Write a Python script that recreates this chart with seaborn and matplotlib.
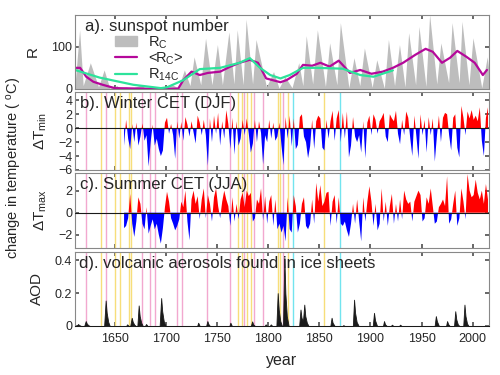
import numpy as np
import pandas as pd
import seaborn as sns
import matplotlib.pyplot as plt
from matplotlib.patches import Patch
from matplotlib.lines import Line2D

# ---- a) sunspot number: cycle minima / maxima
rc_year = [1611, 1615.5, 1619, 1626, 1634, 1639.5, 1645, 1652, 1655, 1661, 1666, 1676, 1680,
           1684, 1689, 1698, 1705, 1712, 1718, 1723.5, 1727.5, 1734, 1738.7, 1745, 1750.3,
           1755.2, 1761.5, 1766.5, 1769.7, 1775.5, 1778.4, 1784.7, 1788.1, 1798.3, 1805.2,
           1810.6, 1816.4, 1823.3, 1829.9, 1833.9, 1837.2, 1843.5, 1848.1, 1856, 1860.1,
           1867.2, 1870.6, 1878.9, 1883.9, 1889.6, 1894.1, 1901.7, 1906.2, 1913.6, 1917.6,
           1923.6, 1928.4, 1933.8, 1937.4, 1944.2, 1947.5, 1954.3, 1957.9, 1964.9, 1968.9,
           1976.5, 1979.9, 1986.8, 1989.6, 1996.4, 2000.3, 2008.9, 2014.3, 2016]
rc_val = [10, 140, 8, 62, 5, 45, 2, 8, 1, 5, 1, 10, 1,
          5, 0, 0, 12, 2, 45, 8, 76, 10, 120, 10, 105,
          10, 135, 12, 140, 10, 165, 12, 117, 5, 41,
          2, 29, 3, 62, 8, 126, 12, 140, 6, 109,
          10, 157, 3, 74, 8, 97, 4, 69, 2, 117,
          8, 105, 5, 133, 10, 148, 6, 176, 12, 109,
          15, 157, 15, 160, 10, 121, 3, 76, 40]

# <R_C> running mean
rcm_year = [1611, 1616, 1622, 1629, 1638, 1650, 1700, 1712, 1717, 1725, 1733, 1741, 1753,
            1763, 1772, 1782, 1790, 1798, 1812, 1818, 1828, 1834, 1843, 1851, 1860, 1869,
            1880, 1890, 1901, 1912, 1922, 1932, 1944, 1954, 1961, 1970, 1978, 1985, 1994,
            2002, 2010, 2014]
rcm_val = [50, 50, 29, 17, 10, 2, 0, 1, 21, 41, 33, 38, 41,
           53, 62, 69, 62, 25, 16, 21, 36, 57, 55, 62, 53, 67,
           38, 45, 36, 41, 50, 62, 81, 95, 88, 62, 74, 90, 76,
           62, 33, 45]

# R_14C from cosmogenic isotopes
r14_year = [1611, 1635, 1668, 1695, 1701, 1717, 1733, 1753, 1772, 1782, 1792, 1802, 1812,
            1821, 1834, 1848, 1873, 1890, 1903, 1922]
r14_val = [45, 27, 10, 2, 4, 21, 47, 50, 62, 73, 50, 33, 25,
           33, 50, 50, 48, 33, 29, 44]

# ---- b) winter CET (DJF) and c) summer CET (JJA) anomalies, every 2nd year
cet_year = list(range(1659, 2016, 2))
djf = [-2.5, 1.2, -1.5, -3.0, 0.6, -2.0, 0.8, -2.5, -1.2, 0.7,
       -1.8, -1.0, -5.5, -2.0, 0.5, -2.5, -1.5, -3.0, -4.0, -3.2,
       0.8, 1.5, -0.8, 0.6, -1.0, -4.4, 1.0, -1.5, 0.9, -1.8,
       1.6, 0.5, -1.2, 1.0, -0.6, -2.2, 1.8, 0.8, -1.0, 1.2,
       -1.0, -5.4, 1.4, -2.0, 1.8, -0.8, 2.2, -2.5, 1.0, -1.5,
       2.6, 0.6, -3.0, 1.5, -3.8, 1.0, -2.5, -1.5, 1.2, -1.0,
       1.4, -0.8, -3.5, -2.2, 1.2, -2.0, 1.0, -0.7, -5.2, -1.0,
       -2.0, 1.2, -1.5, 0.8, -1.8, -1.2, 0.8, -2.5, -5.3, 1.6,
       -1.5, 1.8, -2.6, 1.4, -3.0, -2.4, 1.6, 2.0, -1.2, -2.0,
       -4.3, -2.6, 1.2, -3.0, 1.0, 1.8, 1.4, -2.8, -3.2, 1.2,
       -1.5, 1.0, 2.5, -1.8, 1.4, 2.6, -2.0, 2.2, -1.5, 2.4,
       -4.2, -2.5, 1.6, -1.2, -2.0, -1.0, -3.5, 1.0, -4.3, 0.8,
       1.8, -1.0, 2.0, 1.2, -0.8, 1.0, 1.5, 2.2, -1.2, -2.0,
       2.0, 1.4, 1.0, 2.5, -0.8, -2.3, 1.2, -1.0, 2.4, 1.5,
       -1.5, -4.0, 1.8, -1.2, -4.4, 2.0, -1.0, 1.2, -3.5, 1.6,
       -1.0, 1.4, -4.8, -1.2, 1.8, -2.0, 1.5, 2.2, 2.0, -1.0,
       -3.2, 1.5, 2.0, -2.8, -4.2, 3.2, 1.5, -1.0, 2.4, 1.4,
       2.6, 1.2, 1.8, 1.0, 3.0, -1.8, -4.0, 1.5, 3.0]
jja = [-1.4, -1.2, -0.5, 1.7, -1.0, -2.2, -0.8, 1.4, 0.8, -1.0,
       -1.5, 0.5, -1.9, -1.2, -0.6, -1.5, -1.0, -2.0, -2.8, -1.4,
       0.5, 1.9, 1.0, -0.5, -1.0, -1.6, -1.2, -0.6, 1.0, 0.5,
       2.0, -0.8, -2.5, 1.2, 2.0, 0.8, 1.5, -0.6, 1.2, 2.2,
       -0.5, 1.6, 0.8, -0.8, 1.4, 2.2, 0.6, -0.5, 1.0, 2.0,
       1.2, 0.6, -1.2, 1.4, -0.8, 0.8, -0.6, 1.2, 1.8, 0.5,
       2.0, 1.5, 1.8, -0.8, -0.5, 1.2, 0.8, 2.2, -0.7, 1.5,
       -1.0, 1.0, 1.6, -1.2, 1.2, -1.5, -1.0, -1.8, -1.2, -2.6,
       1.4, -1.5, -1.8, 1.6, 0.6, -1.8, -1.0, 0.8, 1.4, -1.2,
       -1.5, -1.0, 1.2, -1.0, 2.7, 1.0, 2.5, 0.6, 1.0, 1.8,
       1.9, -1.2, 1.0, 1.6, -1.0, 1.4, -1.0, -1.2, -0.8, -1.6,
       -2.2, -1.0, 0.8, -1.0, 1.2, -0.8, -2.6, 1.4, -0.8, 1.0,
       2.4, 1.0, -1.2, 0.8, -1.6, -1.0, 2.2, -0.8, 1.0, -1.2,
       0.6, 1.7, -1.0, 0.8, -0.8, 1.2, -0.6, 2.0, 1.2, 0.8,
       1.0, -0.8, 1.0, 1.5, 2.0, 1.6, -0.8, -0.5, 1.4, 0.8,
       2.2, 0.6, -1.0, -0.8, 0.5, 0.8, 1.2, 0.6, 3.3, -1.0,
       -0.6, 0.8, 2.0, -1.2, -0.5, 2.2, 1.0, -0.6, 3.5, 2.0,
       1.4, 1.6, 3.0, 1.8, 1.2, 2.0, 0.8, 2.6, 1.2]

# ---- d) volcanic aerosol optical depth (one short pulse per eruption)
aod_year = [1611, 1612.5, 1614, 1615, 1617,
            1620, 1621.5, 1622.5, 1624, 1625.5,
            1639.5, 1641, 1642, 1643.5, 1645,
            1661, 1662, 1663.5,
            1665, 1666.5, 1667.5, 1669, 1670.5,
            1672, 1673.3, 1674.3, 1675.8, 1677.3,
            1679.5, 1680.5, 1682,
            1693.8, 1695.3, 1696.3, 1697.8, 1699.5,
            1730.5, 1731.5, 1733,
            1739.3, 1740.5, 1741.5, 1743,
            1762, 1763, 1764.5,
            1783, 1784.3, 1785.3, 1787,
            1796.5, 1797.5, 1799,
            1801.5, 1802.5, 1804,
            1808, 1809.3, 1810.3, 1811.8, 1813.5,
            1814.5, 1815.8, 1816.8, 1818.2, 1820,
            1830.3, 1831.6, 1832.6, 1834, 1835.3, 1836.3, 1837.8, 1839.5,
            1860.8, 1862, 1863, 1865,
            1872.5, 1873.5, 1875,
            1882.8, 1884, 1885, 1886.5, 1888.5,
            1902.3, 1903.5, 1904.5, 1906.5,
            1912.3, 1913.3, 1914.3, 1916,
            1920, 1921, 1922.5,
            1928, 1929, 1930.5,
            1962.8, 1964, 1965, 1967,
            1974, 1975, 1976, 1977.5,
            1981.8, 1983, 1984, 1985.5, 1987,
            1990.8, 1992, 1993, 1994.5, 1996,
            2016]
aod_val = [0, 0, 0.012, 0.006, 0,
           0, 0.03, 0.015, 0.005, 0,
           0, 0.155, 0.08, 0.025, 0,
           0, 0.01, 0,
           0, 0.05, 0.025, 0.008, 0,
           0, 0.125, 0.06, 0.02, 0,
           0, 0.012, 0,
           0, 0.17, 0.09, 0.03, 0,
           0, 0.02, 0,
           0, 0.03, 0.012, 0,
           0, 0.02, 0,
           0, 0.028, 0.01, 0,
           0, 0.01, 0,
           0, 0.01, 0,
           0, 0.2, 0.1, 0.03, 0,
           0, 0.42, 0.2, 0.06, 0,
           0, 0.1, 0.05, 0.03, 0.13, 0.06, 0.02, 0,
           0, 0.05, 0.02, 0,
           0, 0.005, 0,
           0, 0.16, 0.08, 0.025, 0,
           0, 0.08, 0.035, 0,
           0, 0.03, 0.01, 0,
           0, 0.008, 0,
           0, 0.008, 0,
           0, 0.06, 0.03, 0,
           0, 0.03, 0.012, 0,
           0, 0.09, 0.04, 0.01, 0,
           0, 0.13, 0.06, 0.015, 0,
           0]

# marked years (vertical lines)
pink_years = [1622, 1641, 1677, 1684, 1689, 1711, 1716, 1740, 1763, 1776, 1786, 1795, 1814]
yellow_years = [1636, 1650, 1655, 1664, 1666, 1770, 1774, 1779, 1783, 1810, 1812, 1819, 1855]
cyan_years = [1824, 1870]

sns.set_theme(style='ticks')
plt.rcParams['font.family'] = ['Liberation Sans', 'DejaVu Sans']
plt.rcParams['mathtext.default'] = 'regular'

fig = plt.figure(figsize=(5, 3.75), dpi=100)
L, W = 0.15, 0.828
axa = fig.add_axes([L, 0.7627, W, 0.1973])
axb = fig.add_axes([L, 0.5467, W, 0.208], sharex=axa)
axc = fig.add_axes([L, 0.3387, W, 0.200], sharex=axa)
axd = fig.add_axes([L, 0.1307, W, 0.1973], sharex=axa)

gray = '#bdbdbd'
mag = '#b5089a'
grn = '#2de39b'

# a) sunspots
axa.fill_between(rc_year, rc_val, 0, color=gray, lw=0)
sns.lineplot(x=rcm_year, y=rcm_val, ax=axa, color=mag, lw=1.6)
sns.lineplot(x=r14_year, y=r14_val, ax=axa, color=grn, lw=1.6)
axa.set_ylim(0, 175)
axa.set_yticks([0, 100])
axa.set_ylabel('R', fontsize=11)
handles = [Patch(color=gray), Line2D([], [], color=mag, lw=1.6),
           Line2D([], [], color=grn, lw=1.6)]
axa.legend(handles, ['R$_C$', '<R$_C$>', 'R$_{14C}$'], loc='upper left',
           bbox_to_anchor=(0.08, 0.84), frameon=False, fontsize=10.5,
           handlelength=1.5, handletextpad=0.75, labelspacing=0.0, borderpad=0)

# b), c) temperatures
djf = np.array(djf)
jja = np.array(jja)
for ax, v in [(axb, djf), (axc, jja)]:
    ax.fill_between(cet_year, v, 0, where=v > 0, interpolate=True, color='#ff0000', lw=0, zorder=3)
    ax.fill_between(cet_year, v, 0, where=v < 0, interpolate=True, color='#0000ff', lw=0, zorder=3)
    ax.axhline(0, color='k', lw=0.8, zorder=4)
axb.set_ylim(-6, 5.2)
axb.set_yticks([-6, -4, -2, 0, 2, 4])
axb.set_ylabel('ΔT$_{min}$', fontsize=11)
axc.set_ylim(-3.2, 3.6)
axc.set_yticks([-2, 0, 2])
axc.set_ylabel('ΔT$_{max}$', fontsize=11)

# d) volcanic aerosols
axd.fill_between(aod_year, aod_val, 0, facecolor='k', edgecolor='k', lw=0.6, zorder=3)
axd.set_ylim(0, 0.45)
axd.set_yticks([0, 0.2, 0.4])
axd.set_yticklabels(['0', '0.2', '0.4'])
axd.set_ylabel('AOD', fontsize=11)
axd.set_xlabel('year', fontsize=11.5, labelpad=6)

for ax in [axb, axc, axd]:
    for yr in pink_years:
        ax.axvline(yr, color='#f2a8cf', lw=1, zorder=1)
    for yr in yellow_years:
        ax.axvline(yr, color='#f7de7a', lw=1, zorder=1)
    for yr in cyan_years:
        ax.axvline(yr, color='#72e4ef', lw=1, zorder=1)

titles = ['a). sunspot number', 'b). Winter CET (DJF)', 'c). Summer CET (JJA)',
          'd). volcanic aerosols found in ice sheets']
title_x = [0.025, 0.012, 0.012, 0.01]
for ax, t, tx in zip([axa, axb, axc, axd], titles, title_x):
    ax.text(tx, 0.95, t, transform=ax.transAxes, ha='left', va='top', fontsize=12, zorder=6)
    ax.set_xlim(1611, 2016)
    ax.set_xticks([1650, 1700, 1750, 1800, 1850, 1900, 1950, 2000])
    ax.tick_params(direction='in', top=True, right=True, length=3, labelsize=9,
                   color='#555555', pad=2)
    ax.tick_params(axis='x', pad=5)
    for s in ax.spines.values():
        s.set_color('#888888')
        s.set_linewidth(0.8)
    if ax is not axd:
        ax.tick_params(labelbottom=False)

axa.yaxis.set_label_coords(-0.085, 0.5)
axb.yaxis.set_label_coords(-0.062, 0.5)
axc.yaxis.set_label_coords(-0.062, 0.5)
axd.yaxis.set_label_coords(-0.075, 0.5)

fig.text(0.03, 1 - 168 / 375, 'change in temperature ( $^{o}$C)', rotation=90,
         ha='center', va='center', fontsize=10.5)

fig.savefig('out.png', dpi=100)
